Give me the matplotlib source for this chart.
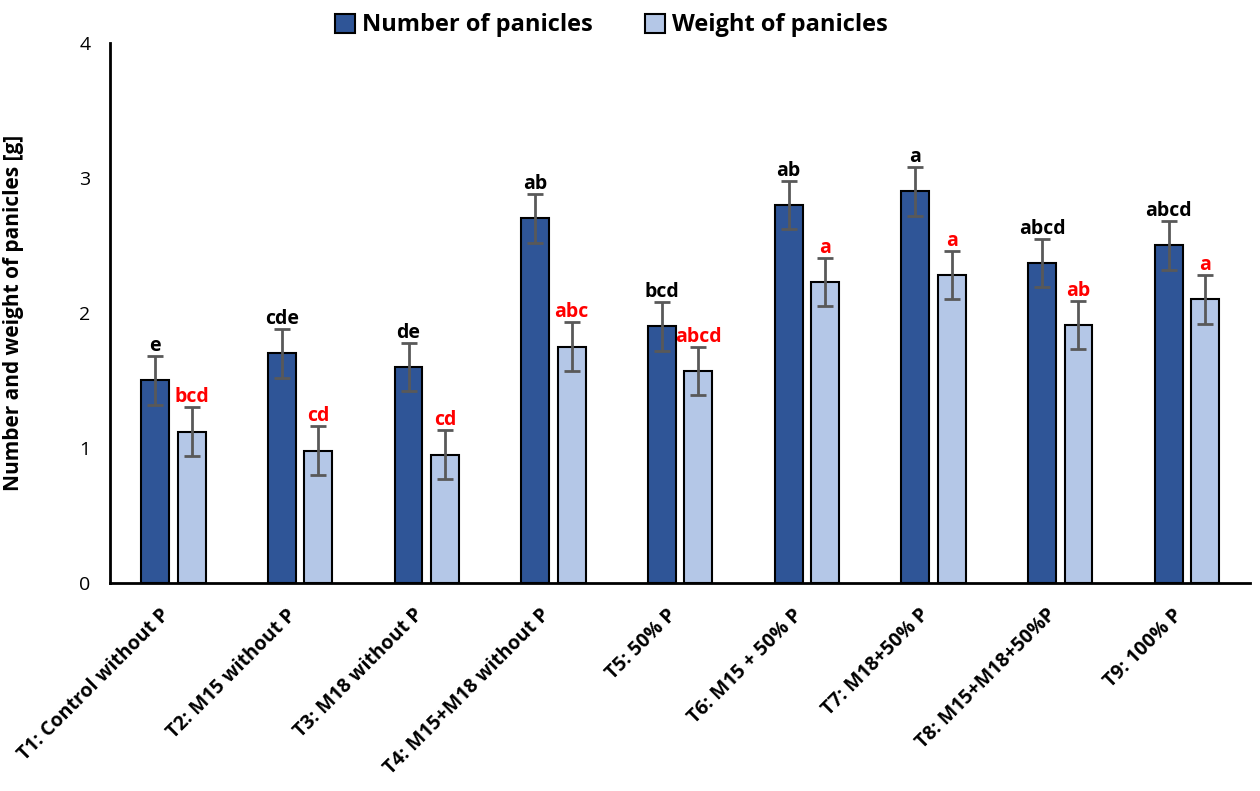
import matplotlib.pyplot as plt
import numpy as np

plt.rcParams['font.family'] = ['Open Sans', 'DejaVu Sans']

treatments = ['T1: Control without P', 'T2: M15 without P', 'T3: M18 without P',
              'T4: M15+M18 without P', 'T5: 50% P', 'T6: M15 + 50% P',
              'T7: M18+50% P', 'T8: M15+M18+50%P', 'T9: 100% P']
number = [1.50, 1.70, 1.60, 2.70, 1.90, 2.80, 2.90, 2.37, 2.50]
weight = [1.12, 0.98, 0.95, 1.75, 1.57, 2.23, 2.28, 1.91, 2.10]
number_err = [0.18, 0.18, 0.18, 0.18, 0.18, 0.18, 0.18, 0.18, 0.18]
weight_err = [0.18, 0.18, 0.18, 0.18, 0.18, 0.18, 0.18, 0.18, 0.18]
number_letters = ['e', 'cde', 'de', 'ab', 'bcd', 'ab', 'a', 'abcd', 'abcd']
weight_letters = ['bcd', 'cd', 'cd', 'abc', 'abcd', 'a', 'a', 'ab', 'a']

fig = plt.figure(figsize=(12.6, 7.91), dpi=100)
ax = fig.add_axes([0.0873, 0.263, 0.905, 0.6827])

x = np.arange(len(treatments))
w = 0.22
off = 0.144
err_kw = dict(ecolor='#595959', elinewidth=2, capsize=6, capthick=2)
ax.bar(x - off, number, w, color='#2F5597', edgecolor='black', linewidth=1.5,
       yerr=number_err, error_kw=err_kw, label='Number of panicles', zorder=2)
ax.bar(x + off, weight, w, color='#B4C7E7', edgecolor='black', linewidth=1.5,
       yerr=weight_err, error_kw=err_kw, label='Weight of panicles', zorder=2)

for i in range(len(treatments)):
    ax.text(x[i] - off, number[i] + number_err[i], number_letters[i], ha='center',
            va='bottom', fontsize=14, fontweight='bold', color='black')
    ax.text(x[i] + off, weight[i] + weight_err[i], weight_letters[i], ha='center',
            va='bottom', fontsize=14, fontweight='bold', color='red')

ax.set_xlim(-0.5, len(treatments) - 0.5)
ax.set_ylim(0, 4)
ax.set_yticks([0, 1, 2, 3, 4])
ax.tick_params(axis='y', length=0, labelsize=14, pad=14)
ax.tick_params(axis='x', length=0, pad=16)
ax.set_xticks(x)
ax.set_xticklabels(treatments, rotation=45, ha='right', va='top', fontsize=14,
                   fontweight='bold')

for s in ['top', 'right']:
    ax.spines[s].set_visible(False)
for s in ['left', 'bottom']:
    ax.spines[s].set_linewidth(2)

ax.set_ylabel('Number and weight of panicles [g]', fontsize=15, fontweight='bold')
ax.yaxis.set_label_coords(-0.075, 0.5)

fig.legend(loc='upper center', bbox_to_anchor=(0.485, 1.01), ncol=2,
           frameon=False, prop={'size': 17, 'weight': 'bold'},
           handlelength=0.85, handleheight=0.85, handletextpad=0.3,
           columnspacing=2.2)

fig.savefig('out.png', dpi=100)
